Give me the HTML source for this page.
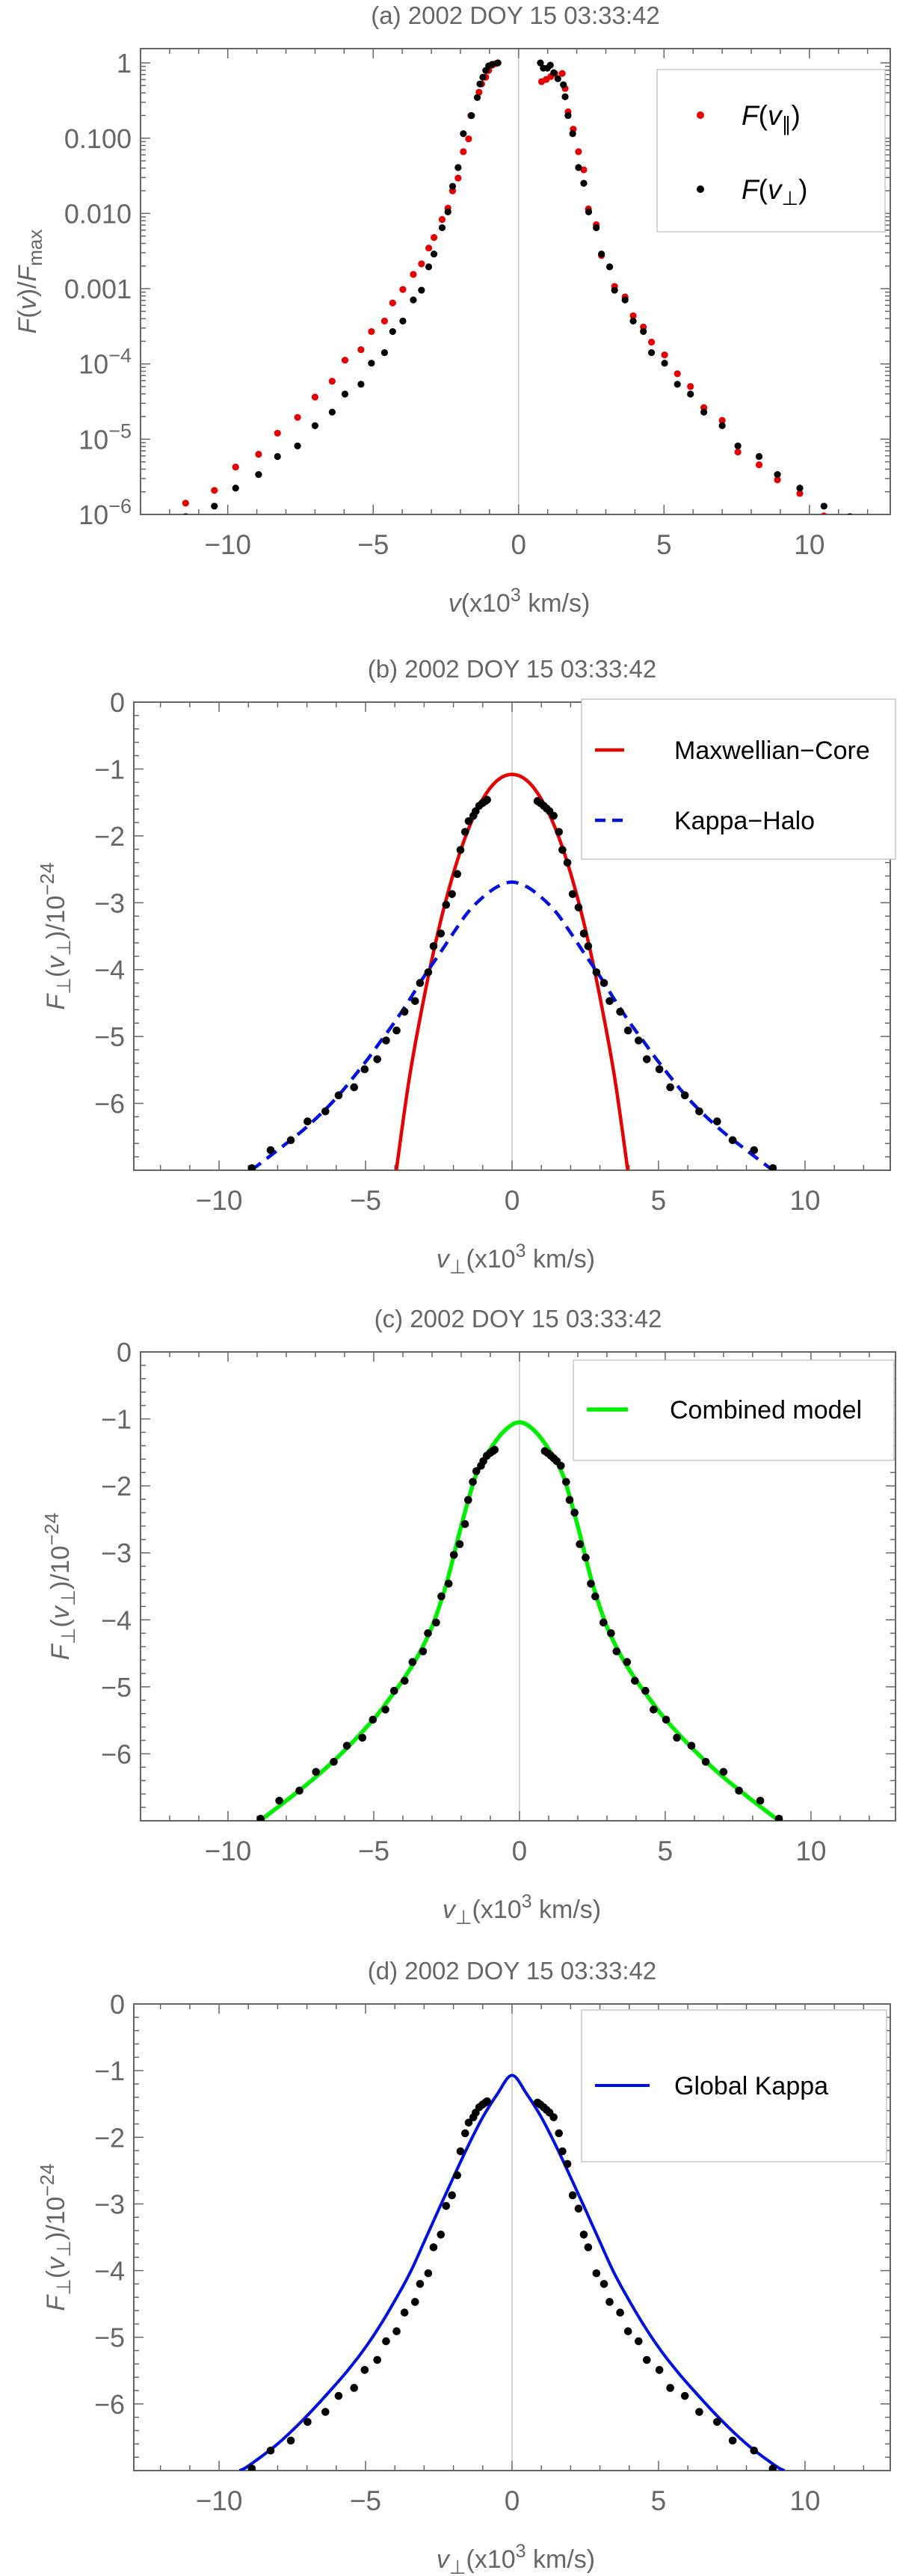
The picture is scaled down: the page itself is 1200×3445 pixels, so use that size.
<!DOCTYPE html>
<html><head><meta charset="utf-8"><title>Velocity distribution panels</title>
<style>
html,body{margin:0;padding:0;background:#fff;}
svg{display:block;font-family:"Liberation Sans",sans-serif;}
</style></head>
<body>
<svg id="fig" width="1200" height="3445" viewBox="0 0 1200 3445" xmlns="http://www.w3.org/2000/svg"></svg>
<script>
// ---------- Panel (a) data: v (x10^3 km/s) and log10(F/Fmax) ----------
const parV_left = [-11.45,-10.46,-9.73,-8.94,-8.29,-7.60,-7.00,-6.41,-5.97,-5.42,-5.06,-4.61,-4.33,-3.98,-3.62,-3.34,-3.09,-2.91,-2.63,-2.43,-2.27,-2.08,-1.90,-1.72,-1.64,-1.36,-1.27,-1.13,-1.03,-0.91,-0.79,-0.71];
const parLog_left = [-5.85,-5.68,-5.37,-5.20,-4.92,-4.71,-4.44,-4.23,-3.95,-3.81,-3.57,-3.43,-3.19,-3.01,-2.81,-2.67,-2.46,-2.32,-2.08,-1.93,-1.70,-1.53,-1.18,-1.01,-0.70,-0.39,-0.28,-0.19,-0.10,-0.03,-0.01,0];
const parV_right = [0.79,0.95,1.11,1.25,1.50,1.60,1.70,1.88,2.06,2.24,2.40,2.67,2.85,3.30,3.66,3.94,4.29,4.57,5.02,5.46,5.91,6.37,7.00,7.54,8.27,8.90,9.67,10.50];
const parLog_right = [-0.25,-0.22,-0.18,-0.14,-0.14,-0.34,-0.65,-0.88,-1.18,-1.42,-1.94,-2.15,-2.56,-2.97,-3.11,-3.36,-3.51,-3.71,-3.88,-4.13,-4.30,-4.58,-4.75,-5.17,-5.34,-5.54,-5.72,-6.02];
const perpV_left = [-11.45,-10.46,-9.73,-8.94,-8.29,-7.60,-7.00,-6.41,-5.97,-5.42,-5.06,-4.61,-4.33,-3.98,-3.62,-3.34,-3.09,-2.91,-2.63,-2.43,-2.27,-2.08,-1.90,-1.62,-1.42,-1.33,-1.23,-1.13,-1.03,-0.91,-0.71];
const perpLog_left = [-6.03,-5.89,-5.65,-5.47,-5.23,-5.09,-4.82,-4.64,-4.40,-4.27,-3.99,-3.85,-3.57,-3.43,-3.15,-3.02,-2.71,-2.54,-2.19,-1.98,-1.64,-1.39,-0.94,-0.70,-0.46,-0.28,-0.19,-0.10,-0.04,-0.02,0];
const perpV_right = [0.75,0.85,0.99,1.09,1.21,1.35,1.54,1.60,1.70,1.86,2.06,2.24,2.41,2.67,2.85,3.13,3.30,3.66,3.94,4.29,4.57,5.02,5.46,5.91,6.37,7.00,7.54,8.27,8.90,9.67,10.50,11.39];
const perpLog_right = [0,-0.07,-0.07,-0.03,-0.13,-0.21,-0.29,-0.45,-0.70,-0.94,-1.39,-1.60,-1.98,-2.19,-2.54,-2.71,-3.02,-3.15,-3.43,-3.57,-3.85,-3.99,-4.27,-4.40,-4.64,-4.82,-5.09,-5.23,-5.47,-5.65,-5.89,-6.03];
const logTickValues = [0,-1,-2,-3,-4,-5,-6];
const logTickLabels = ["1","0.100","0.010","0.001","10|−4","10|−5","10|−6"];
const xTickValues = [-10,-5,0,5,10];
const xTickLabels = ["−10","−5","0","5","10"];

// ---------- Panels (b)-(d) data: v_perp and F_perp ----------
const dotV = [-8.88,-8.24,-7.55,-6.98,-6.37,-5.92,-5.39,-5.03,-4.60,-4.30,-3.94,-3.67,-3.31,-3.14,-2.86,-2.68,-2.43,-2.25,-2.05,-1.87,-1.76,-1.60,-1.48,-1.32,-1.24,-1.12,-1.01,-0.91,-0.85,
  0.87,0.97,1.08,1.18,1.28,1.42,1.60,1.72,1.89,2.07,2.27,2.45,2.60,2.88,3.14,3.33,3.69,3.96,4.32,4.60,5.03,5.40,5.90,6.39,7.00,7.53,8.26,8.90];
const dotF = [-6.97,-6.70,-6.55,-6.27,-6.12,-5.88,-5.76,-5.49,-5.34,-5.06,-4.91,-4.63,-4.47,-4.20,-4.04,-3.65,-3.46,-3.03,-2.87,-2.57,-2.21,-1.94,-1.78,-1.70,-1.63,-1.55,-1.51,-1.48,-1.46,
  -1.48,-1.51,-1.55,-1.59,-1.63,-1.70,-1.94,-2.21,-2.40,-2.87,-3.07,-3.46,-3.65,-4.04,-4.20,-4.47,-4.63,-4.91,-5.06,-5.34,-5.49,-5.76,-5.88,-6.12,-6.27,-6.55,-6.70,-6.97];
// model curves: sampled on half-axis (symmetric about v=0)
const coreV = [0,0.5,1,1.5,2,2.5,3,3.5,3.95];
const coreF = [-1.08,-1.17,-1.45,-1.91,-2.56,-3.39,-4.41,-5.61,-7.0];
const haloV = [0,0.5,1,1.5,2,2.5,3,3.5,4,4.5,5,6,7,8,8.9];
const haloF = [-2.69,-2.76,-2.92,-3.14,-3.45,-3.78,-4.10,-4.45,-4.78,-5.08,-5.38,-5.92,-6.35,-6.70,-7.0];
const combV = [0,0.5,1,1.5,2,2.5,3,3.5,4,4.5,5,6,7,8,8.9];
const combF = [-1.05,-1.17,-1.45,-1.85,-2.60,-3.45,-4.10,-4.55,-4.90,-5.20,-5.48,-5.95,-6.35,-6.70,-7.0];
const globV = [0,0.5,1,1.5,2,2.5,3,3.5,4,4.5,5,5.5,6,7,8,9,9.3];
const globF = [-1.07,-1.35,-1.70,-2.13,-2.60,-3.08,-3.57,-4.05,-4.45,-4.82,-5.15,-5.44,-5.70,-6.18,-6.60,-6.93,-7.0];
const linTickValues = [0,-1,-2,-3,-4,-5,-6];
const linTickLabels = ["0","−1","−2","−3","−4","−5","−6"];

const NS = "http://www.w3.org/2000/svg";
const fig = document.getElementById("fig");
function mk(tag, attrs, parent){ const e=document.createElementNS(NS,tag); for(const k in attrs) e.setAttribute(k,attrs[k]); (parent||fig).appendChild(e); return e; }
const GRAY="#666";

function smoothPath(pts){
  if(pts.length<2) return "";
  let d="M"+pts[0][0].toFixed(1)+","+pts[0][1].toFixed(1);
  for(let i=0;i<pts.length-1;i++){
    const p0=pts[Math.max(0,i-1)],p1=pts[i],p2=pts[i+1],p3=pts[Math.min(pts.length-1,i+2)];
    const c1x=p1[0]+(p2[0]-p0[0])/6,c1y=p1[1]+(p2[1]-p0[1])/6;
    const c2x=p2[0]-(p3[0]-p1[0])/6,c2y=p2[1]-(p3[1]-p1[1])/6;
    d+=" C"+c1x.toFixed(1)+","+c1y.toFixed(1)+" "+c2x.toFixed(1)+","+c2y.toFixed(1)+" "+p2[0].toFixed(1)+","+p2[1].toFixed(1);
  }
  return d;
}

function panel(cfg){
  const g=mk("g",{});
  
  
  const L=cfg.L,R=cfg.R,T=cfg.T,B=cfg.B;
  const sx=v=>L+(v-cfg.xmin)/(cfg.xmax-cfg.xmin)*(R-L);
  const sy=f=>T+(cfg.ymax-f)/(cfg.ymax-cfg.ymin)*(B-T);
  cfg.sx=sx; cfg.sy=sy;
  const cid="clip"+cfg.id;
  const cp=mk("clipPath",{id:cid},g); mk("rect",{x:L,y:T,width:R-L,height:B-T},cp);
  const t=mk("text",{x:(L+R)/2,y:T-33,"text-anchor":"middle","font-size":"33",fill:GRAY},g);
  t.textContent=cfg.title;
  
  
  const zl=mk("line",{x1:sx(0),x2:sx(0),y1:T,y2:B,stroke:"#bbb","stroke-width":"1.2"},g);
  
  
  const tk=mk("g",{stroke:GRAY,"stroke-width":"1.5"},g);
  
  
  for(let v=-13;v<=13;v++){
    const x=sx(v); if(x<L+1||x>R-1) continue;
    const len=(v%5===0)?13:7;
    mk("line",{x1:x,x2:x,y1:B,y2:B-len},tk); mk("line",{x1:x,x2:x,y1:T,y2:T+len},tk);
  }
  if(cfg.log){
    for(let dec=-6;dec<=0;dec++){
      for(let m=1;m<=9;m++){
        const f=dec+Math.log10(m); const y=sy(f); if(y<T+1||y>B-1) continue;
        const len=(m===1)?13:7;
        mk("line",{x1:L,x2:L+len,y1:y,y2:y},tk); mk("line",{x1:R,x2:R-len,y1:y,y2:y},tk);
      }
    }
  } else {
    for(let i=0;i<=35;i++){
      const f=-i*0.2; const y=sy(f); if(y<T+1||y>B-1) continue;
      const len=(i%5===0)?13:7;
      mk("line",{x1:L,x2:L+len,y1:y,y2:y},tk); mk("line",{x1:R,x2:R-len,y1:y,y2:y},tk);
    }
  }
  const fr=mk("rect",{x:L,y:T,width:R-L,height:B-T,fill:"none",stroke:GRAY,"stroke-width":"2"},g);
  
  
  xTickValues.forEach((v,i)=>{
    const tl=mk("text",{x:sx(v),y:B+53,"text-anchor":"middle","font-size":"37",fill:GRAY},g);
    tl.textContent=xTickLabels[i];
    
    
  });
  const yv=cfg.log?logTickValues:linTickValues, yl=cfg.log?logTickLabels:linTickLabels;
  yv.forEach((f,i)=>{
    const y=sy(f);
    const tl=mk("text",{x:L-12,y:y+13,"text-anchor":"end","font-size":"36",fill:GRAY},g);
    const lab=yl[i];
    if(lab.indexOf("|")>=0){
      const parts=lab.split("|");
      const a=mk("tspan",{},tl); a.textContent=parts[0];
      const b=mk("tspan",{dy:"-15","font-size":"27"},tl); b.textContent=parts[1];
    } else tl.textContent=lab;
    
    
  });
  const xt=mk("text",{x:(L+R)/2+5,y:B+130,"text-anchor":"middle","font-size":"34",fill:GRAY},g);
  xt.innerHTML=cfg.xlabel;
  
  
  const yt=mk("text",{x:0,y:0,"text-anchor":"middle","font-size":"34",fill:GRAY,transform:"translate("+cfg.ylx+","+((T+B)/2)+") rotate(-90)"},g);
  yt.innerHTML=cfg.ylabel;
  
  
  cfg.g=g; cfg.clip="url(#"+cid+")";
  return cfg;
}

function drawDots(cfg, vs, fs, color, name, r){
  const dg=mk("g",{"clip-path":cfg.clip,fill:color},cfg.g);
  
  
  vs.forEach((v,i)=>{
    const c=mk("circle",{cx:cfg.sx(v),cy:cfg.sy(fs[i]),r:r},dg);
    
    
  });
}
function drawCurve(cfg, hv, hf, color, width, dash, name){
  const pts=[];
  for(let i=hv.length-1;i>0;i--) pts.push([cfg.sx(-hv[i]),cfg.sy(hf[i])]);
  for(let i=0;i<hv.length;i++) pts.push([cfg.sx(hv[i]),cfg.sy(hf[i])]);
  const attrs={d:smoothPath(pts),fill:"none",stroke:color,"stroke-width":width,"clip-path":cfg.clip};
  if(dash) attrs["stroke-dasharray"]=dash;
  const p=mk("path",attrs,cfg.g);
  
  
}
function legendBox(cfg,x,y,w,h){
  const r=mk("rect",{x:x,y:y,width:w,height:h,fill:"#fff",stroke:"#bbb","stroke-width":"1.2"},cfg.g);
  
  
}
function legendLine(cfg,x1,x2,y,color,width,dash,label,tx){
  const a={x1:x1,x2:x2,y1:y,y2:y,stroke:color,"stroke-width":width};
  if(dash) a["stroke-dasharray"]=dash;
  const l=mk("line",a,cfg.g);
  
  
  const t=mk("text",{x:tx,y:y+12,"font-size":"34",fill:"#000"},cfg.g);
  t.textContent=label;
  
  
}

const XPERP='<tspan font-style="italic">v</tspan><tspan font-size="26" dy="8">⊥</tspan><tspan dy="-8">(x10</tspan><tspan font-size="25" dy="-14">3</tspan><tspan dy="14"> km/s)</tspan>';
const YPERP='<tspan font-style="italic">F</tspan><tspan font-size="26" dy="8">⊥</tspan><tspan dy="-8">(</tspan><tspan font-style="italic">v</tspan><tspan font-size="26" dy="8">⊥</tspan><tspan dy="-8">)/10</tspan><tspan font-size="26" dy="-14">−24</tspan>';

// Panel a
const pa=panel({id:"a",name:"panel-a",L:188,R:1191,T:65,B:688,xmin:-13.0,xmax:12.78,ymin:-6,ymax:0.19,log:true,
  title:"(a) 2002 DOY 15 03:33:42",ylx:48,
  xlabel:'<tspan font-style="italic">v</tspan><tspan>(x10</tspan><tspan font-size="25" dy="-14">3</tspan><tspan dy="14"> km/s)</tspan>',
  ylabel:'<tspan font-style="italic">F</tspan><tspan>(</tspan><tspan font-style="italic">v</tspan><tspan>)/</tspan><tspan font-style="italic">F</tspan><tspan font-size="26" dy="8">max</tspan>'});
drawDots(pa,parV_left.concat(parV_right),parLog_left.concat(parLog_right),"#e60000","parallel-series",4.6);
drawDots(pa,perpV_left.concat(perpV_right),perpLog_left.concat(perpLog_right),"#000","perpendicular-series",4.6);
legendBox(pa,879,93,305,217);
(function(){
  const c1=mk("circle",{cx:937,cy:154,r:5,fill:"#e60000"},pa.g);
  
  
  const t1=mk("text",{x:992,y:167,"font-size":"37",fill:"#000"},pa.g);
  t1.innerHTML='<tspan font-style="italic">F</tspan>(<tspan font-style="italic">v</tspan><tspan font-size="26" dy="8">∥</tspan><tspan dy="-8">)</tspan>';
  
  
  const c2=mk("circle",{cx:937,cy:253,r:5,fill:"#000"},pa.g);
  
  
  const t2=mk("text",{x:992,y:266,"font-size":"37",fill:"#000"},pa.g);
  t2.innerHTML='<tspan font-style="italic">F</tspan>(<tspan font-style="italic">v</tspan><tspan font-size="26" dy="8">⊥</tspan><tspan dy="-8">)</tspan>';
  
  
})();

// Panel b
const pb=panel({id:"b",name:"panel-b",L:179,R:1191,T:939,B:1565,xmin:-12.91,xmax:12.91,ymin:-7,ymax:0,log:false,
  title:"(b) 2002 DOY 15 03:33:42",ylx:86,xlabel:XPERP,ylabel:YPERP});
legendBox(pb,778,935,420,214);
drawCurve(pb,coreV,coreF,"#e60000",4.5,null,"maxwellian-core-curve");
drawCurve(pb,haloV,haloF,"#0010e0",4.5,"16,10","kappa-halo-curve");
drawDots(pb,dotV,dotF,"#000","data-points",5.3);
legendLine(pb,796,835,1003,"#e60000",4.5,null,"Maxwellian−Core",902);
legendLine(pb,796,835,1097,"#0010e0",4.5,"14,9","Kappa−Halo",902);

// Panel c
const pc=panel({id:"c",name:"panel-c",L:188,R:1198,T:1808,B:2435,xmin:-13.0,xmax:12.9,ymin:-7,ymax:0,log:false,
  title:"(c) 2002 DOY 15 03:33:42",ylx:92,xlabel:XPERP,ylabel:YPERP});
legendBox(pc,767,1819,429,134);
drawCurve(pc,combV,combF,"#00ee00",5.5,null,"combined-model-curve");
drawDots(pc,dotV,dotF,"#000","data-points",5.3);
legendLine(pc,785,840,1885,"#00ee00",5.5,null,"Combined model",896);

// Panel d
const pd=panel({id:"d",name:"panel-d",L:179,R:1191,T:2680,B:3304,xmin:-12.91,xmax:12.91,ymin:-7,ymax:0,log:false,
  title:"(d) 2002 DOY 15 03:33:42",ylx:86,xlabel:XPERP,ylabel:YPERP});
legendBox(pd,778,2688,408,203);
drawCurve(pd,globV,globF,"#0010e0",4,null,"global-kappa-curve");
drawDots(pd,dotV,dotF,"#000","data-points",5.3);
legendLine(pd,796,869,2789,"#0010e0",4,null,"Global Kappa",902);
</script>
</body></html>
